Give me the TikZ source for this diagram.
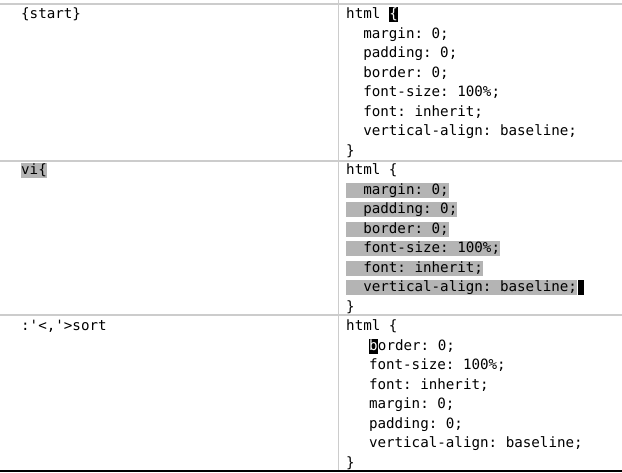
\documentclass[tikz,border=0pt]{standalone}
\usepackage{fontspec}
\setmonofont{DejaVu Sans Mono}
\newcommand\codefont{\ttfamily\fontsize{14.2}{19.45}\selectfont}
\newlength\cw
\setlength\cw{8.55pt}
\definecolor{rulegray}{RGB}{204,204,204}
\definecolor{selgray}{RGB}{180,180,180}
\tikzset{
	code/.style={font=\codefont, anchor=base west, inner sep=0pt, text height=11.5pt, text depth=3.5pt},
	sel/.style={code, fill=selgray},
	cursor/.style={code, fill=black, text=white},
	rule/.style={draw=rulegray, line width=1.5pt}
}
\begin{document}
\begin{tikzpicture}[x=1pt, y=-1pt]
		\useasboundingbox (0,0) rectangle (622,473);
		
		\draw[rule] (0,4) -- (622,4) (0,161) -- (622,161) (0,315) -- (622,315);
		\draw[rule] (338.5,0) -- (338.5,470);
		\draw[line width=2pt] (0,471) -- (622,471);
		
		% first row
		\node[code] (cmdA) at (21,19) {\{start\}};
		\node[code] (htmlA) at (346,19) {html};
		\node[cursor] (curA) at ([xshift=\cw]htmlA.base east) {\{};
		\foreach \t [count=\i] in {margin: 0;, padding: 0;, border: 0;, font-size: 100\%;, font: inherit;, vertical-align: baseline;}
			\node[code] (propA\i) at (363.1,19+19.45*\i) {\t};
		\node[code] (endA) at (346,155.2) {\}};
		
		% second row
		\node[sel] (cmdB) at (21,175) {vi\{};
		\node[code] (htmlB) at (346,175) {html \{};
		\foreach \t [count=\i] in {margin: 0;, padding: 0;, border: 0;, font-size: 100\%;, font: inherit;, vertical-align: baseline;}
			\node[sel] (propB\i) at (346,175+19.45*\i) {\hspace*{2\cw}\t};
		\node[cursor, minimum width=6pt] (curB) at ([xshift=0.5pt]propB6.base east) {};
		\node[code] (endB) at (346,311.2) {\}};
		
		% third row
		\node[code] (cmdC) at (21,331) {:'<,'>sort};
		\node[code] (htmlC) at (346,331) {html \{};
		\node[cursor] (curC) at (368.8,350.45) {b};
		\node[code] (propC1) at (curC.base east) {order: 0;};
		\foreach \t [count=\i from 2] in {font-size: 100\%;, font: inherit;, margin: 0;, padding: 0;, vertical-align: baseline;}
			\node[code] (propC\i) at (368.8,331+19.45*\i) {\t};
		\node[code] (endC) at (346,467.2) {\}};
	\end{tikzpicture}
\end{document}
